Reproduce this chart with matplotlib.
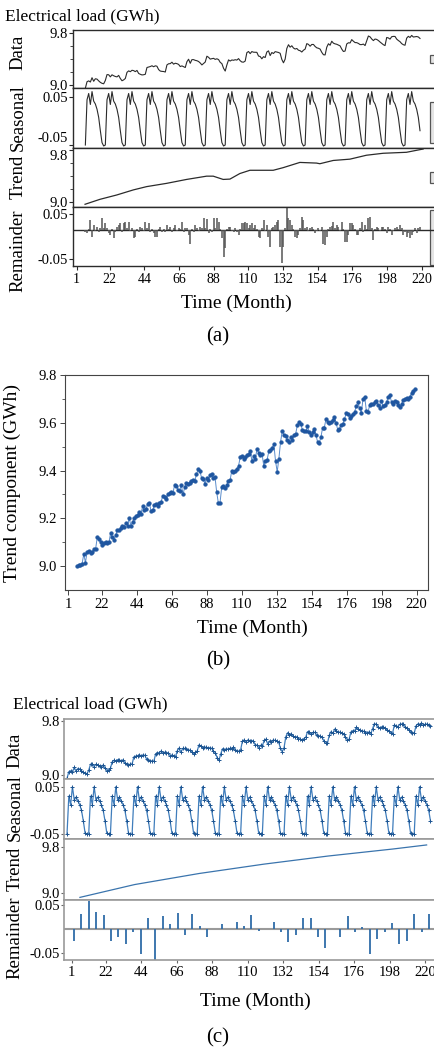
import numpy as np
import matplotlib
matplotlib.use("Agg")
import matplotlib.pyplot as plt
from matplotlib.patches import Rectangle

plt.rcParams['font.family'] = ['Liberation Serif', 'DejaVu Serif']

# ---------------- data ----------------
month_ticks = [1, 22, 44, 66, 88, 110, 132, 154, 176, 198, 220]

# (b) trend component (GWh), one value per sample
trend_component = [
    9.000, 9.005, 9.005, 9.010, 9.050, 9.015, 9.060, 9.065, 9.055, 9.060,
    9.070, 9.070, 9.120, 9.115, 9.100, 9.090, 9.095, 9.100, 9.095, 9.100,
    9.140, 9.120, 9.110, 9.130, 9.150, 9.150, 9.160, 9.170, 9.165, 9.180,
    9.170, 9.200, 9.170, 9.185, 9.200, 9.210, 9.215, 9.225, 9.220, 9.250,
    9.235, 9.240, 9.260, 9.265, 9.230, 9.235, 9.255, 9.260, 9.250, 9.265,
    9.270, 9.295, 9.290, 9.280, 9.300, 9.305, 9.310, 9.305, 9.340, 9.335,
    9.320, 9.315, 9.340, 9.300, 9.330, 9.350, 9.345, 9.350, 9.355, 9.360,
    9.355, 9.385, 9.405, 9.400, 9.370, 9.365, 9.345, 9.370, 9.360, 9.380,
    9.385, 9.370, 9.375, 9.310, 9.265, 9.265, 9.330, 9.335, 9.325, 9.340,
    9.355, 9.360, 9.400, 9.395, 9.400, 9.405, 9.420, 9.455, 9.460, 9.450,
    9.455, 9.465, 9.470, 9.480, 9.440, 9.460, 9.450, 9.490, 9.475, 9.465,
    9.470, 9.420, 9.440, 9.445, 9.480, 9.485, 9.495, 9.510, 9.440, 9.395,
    9.450, 9.520, 9.565, 9.550, 9.545, 9.530, 9.520, 9.540, 9.530, 9.550,
    9.555, 9.590, 9.605, 9.595, 9.570, 9.565, 9.565, 9.585, 9.560, 9.550,
    9.560, 9.575, 9.550, 9.520, 9.515, 9.540, 9.580, 9.580, 9.615, 9.605,
    9.600, 9.605, 9.610, 9.625, 9.600, 9.570, 9.575, 9.590, 9.595, 9.615,
    9.640, 9.635, 9.620, 9.630, 9.635, 9.645, 9.670, 9.685, 9.660, 9.640,
    9.700, 9.710, 9.650, 9.645, 9.675, 9.680, 9.680, 9.685, 9.690, 9.675,
    9.660, 9.690, 9.670, 9.675, 9.685, 9.710, 9.715, 9.685, 9.680, 9.690,
    9.685, 9.675, 9.665, 9.680, 9.695, 9.700, 9.705, 9.700, 9.710, 9.725,
    9.735, 9.740,
]

# (a) seasonal component, one yearly cycle (12 samples)
seasonal_cycle_a = [-0.050, 0.045, 0.058, 0.035, 0.062, 0.042,
                    0.036, 0.025, 0.008, -0.020, -0.045, -0.052]

# (a) remainder component, one value per sample
remainder_a = [
    -0.004, -0.006, 0.003, 0.022, -0.015, 0.011, -0.003, 0.007, -0.005, 0.004,
    0.026, 0.005, 0.015, 0.004, -0.006, -0.011, 0.003, -0.018, -0.005, 0.006,
    0.011, 0.015, -0.004, 0.015, 0.018, 0.005, 0.018, -0.003, 0.004, -0.018,
    -0.015, 0.003, -0.004, 0.007, 0.004, -0.003, 0.018, 0.005, 0.015, -0.004,
    0.003, -0.006, -0.015, -0.015, 0.003, 0.007, -0.004, 0.003, -0.005, 0.011,
    0.003, 0.007, -0.004, 0.004, 0.011, -0.003, 0.004, 0.003, 0.018, -0.004,
    0.004, 0.005, -0.011, -0.030, 0.003, -0.005, 0.011, 0.004, -0.003, 0.007,
    0.004, 0.026, 0.005, 0.025, -0.007, 0.003, -0.004, 0.026, 0.004, 0.026,
    0.018, 0.003, -0.018, -0.059, -0.040, 0.003, 0.007, 0.007, -0.003, -0.004,
    0.004, -0.005, -0.011, 0.003, 0.015, 0.015, 0.018, 0.015, 0.004, 0.011,
    0.015, 0.004, 0.011, 0.003, -0.015, -0.018, 0.004, 0.022, -0.003, 0.011,
    -0.015, -0.037, 0.004, 0.007, 0.011, 0.018, 0.022, -0.037, -0.074, -0.037,
    0.004, 0.048, 0.026, 0.022, 0.011, 0.003, -0.015, -0.018, -0.011, 0.004,
    0.030, 0.022, 0.004, 0.007, -0.003, 0.004, 0.007, 0.003, -0.007, -0.003,
    0.004, -0.002, 0.007, -0.030, -0.033, -0.015, 0.003, 0.007, 0.010, 0.018,
    0.004, 0.011, 0.007, -0.003, 0.018, 0.003, -0.026, -0.026, -0.011, 0.015,
    0.015, 0.011, 0.003, -0.011, -0.011, 0.004, 0.018, -0.004, 0.011, 0.003,
    0.026, 0.030, 0.004, -0.022, 0.003, 0.007, 0.004, -0.002, 0.007, 0.006,
    0.003, -0.007, 0.007, 0.003, -0.011, -0.003, 0.005, 0.007, 0.003, 0.011,
    0.004, -0.011, -0.004, -0.015, -0.006, -0.018, -0.011, -0.005, 0.004, -0.007,
    0.004, 0.007,
]

# (a) smooth trend
trend_a_months = [6.3, 15.8, 26.4, 37, 45.4, 58.1, 70.8, 83.5, 87.7, 94, 98.3,
                  104.6, 111, 125.8, 132.1, 142.7, 153.3, 155.4, 163.9, 174.5,
                  185, 195.6, 210.4, 221]
trend_a_values = [8.97, 9.046, 9.112, 9.19, 9.24, 9.29, 9.35, 9.40, 9.40, 9.35,
                  9.355, 9.44, 9.49, 9.49, 9.53, 9.61, 9.60, 9.59, 9.64, 9.66,
                  9.72, 9.75, 9.765, 9.815]

# (c) seasonal component, one yearly cycle
seasonal_cycle_c = [-0.050, 0.030, 0.012, 0.050, 0.022, 0.028,
                    0.020, 0.012, 0.000, -0.022, -0.048, -0.050]

# (c) trend
trend_c_months = [6.1, 40, 80, 120, 160, 200, 221]
trend_c_values = [8.93, 9.15, 9.34, 9.50, 9.64, 9.76, 9.83]

# (c) remainder (sparse)
remainder_c = [
    -0.025, 0.031, 0.058, 0.035, 0.029, -0.025, -0.017, -0.031, -0.007, -0.052,
    0.022, -0.065, 0.026, 0.010, 0.034, -0.012, 0.031, 0.007, -0.017, 0.000,
    0.010, 0.000, 0.015, 0.007, 0.029, -0.004, 0.000, 0.015, -0.007, -0.028,
    -0.012, 0.022, 0.022, -0.017, -0.040, 0.000, -0.017, 0.026, -0.007, 0.003,
    -0.052, -0.021, -0.007, 0.012, -0.031, -0.025, 0.031, -0.006, 0.031,
]

# ---------------- derived series ----------------
n = len(trend_component)
x_a = np.linspace(6.5, 219.0, n)
seasonal_a = np.resize(seasonal_cycle_a, n)
load = np.array(trend_component) + seasonal_a        # Data = trend comp. + seasonal
x_c = np.linspace(-1.9, 223.4, n)
seasonal_c = np.resize(seasonal_cycle_c, n)
x_rc = np.linspace(2.4, 222.5, len(remainder_c))

# ---------------- figure ----------------
W, H = 435, 1054
fig = plt.figure(figsize=(W / 100, H / 100), dpi=100)


def add_ax(l, t, r, b):
    return fig.add_axes([l / W, 1 - b / H, (r - l) / W, (b - t) / H])


dark = '#2b2b2b'
tick_fs = 10.5
lab_fs = 13.5

# ===== panel (a) =====
xa_lim = (-1.16, 231.7)
A = [add_ax(73.3, 30, 440, 88.3), add_ax(73.3, 88.3, 440, 148.3),
     add_ax(73.3, 148.3, 440, 206.7), add_ax(73.3, 206.7, 440, 265.7)]
ylims_a = [(8.948, 9.851), (-0.0569, 0.0689), (8.933, 9.826), (-0.0649, 0.0662)]
yt_a = [[9.0, 9.8], [-0.05, 0.05], [9.0, 9.8], [-0.05, 0.05]]
ytl_a = [['9.0', '9.8'], ['-0.05', '0.05'], ['9.0', '9.8'], ['-0.05', '0.05']]
for ax, yl, yt, ytl in zip(A, ylims_a, yt_a, ytl_a):
    ax.set_xlim(*xa_lim)
    ax.set_ylim(*yl)
    ax.set_yticks(yt)
    ax.set_yticklabels(ytl)
    for s in ax.spines.values():
        s.set_color(dark)
        s.set_linewidth(1.0)
    ax.spines['right'].set_visible(False)
    ax.tick_params(axis='y', labelsize=tick_fs, length=3, width=0.8, color=dark, pad=1)
    ax.set_xticks([])
A[0].set_yticks([9.2, 9.4, 9.6], minor=True)
A[2].set_yticks([9.2, 9.4, 9.6], minor=True)
for ax in (A[0], A[2]):
    ax.tick_params(axis='y', which='minor', length=2, width=0.6, color=dark)
# keep the crowded labels at the seasonal/trend junction apart
A[1].get_yticklabels()[0].set_va('bottom')
A[2].get_yticklabels()[1].set_va('top')

A[0].plot(x_a, load, color=dark, lw=0.8)
A[1].plot(x_a, seasonal_a, color=dark, lw=0.8)
A[2].plot(trend_a_months, trend_a_values, color=dark, lw=0.9)
rem_base = 0.0144
A[3].axhline(rem_base, color=dark, lw=1.0)
A[3].vlines(x_a, rem_base, rem_base + np.array(remainder_a), color='#555555', lw=1.1)
A[3].set_xticks(month_ticks)
A[3].set_xticklabels([str(m) for m in month_ticks])
A[3].tick_params(axis='x', labelsize=10, length=3, width=0.8, color=dark, pad=2)

# range bars at the right edge
for ax, (y0, y1) in zip(A, [(0.434, 0.571), (0.088, 0.772), (0.406, 0.594), (0.012, 0.944)]):
    ax.add_patch(Rectangle((0.9727, y0), 0.02, y1 - y0, transform=ax.transAxes,
                           facecolor='#e4e4e4', edgecolor='#555555', lw=0.9,
                           clip_on=False))

fig.text(5 / W, 1 - 16 / H, 'Electrical load (GWh)', fontsize=12.5, va='center', ha='left')
for lab, yc in [('Data', 52), ('Seasonal', 118), ('Trend', 177), ('Remainder', 251)]:
    fig.text(18 / W, 1 - yc / H, lab, rotation=90, fontsize=lab_fs, ha='center', va='center')
fig.text(236.7 / W, 1 - 303 / H, 'Time (Month)', fontsize=14, ha='center', va='center')
fig.text(218 / W, 1 - 337 / H, '(a)', fontsize=15, ha='center', va='center')

# ===== panel (b) =====
B = add_ax(65, 375, 427.7, 590)
B.plot(x_a, trend_component, '-', color='#5a8ccb', lw=0.7)
B.plot(x_a, trend_component, 'o', color='#1f56a0', ms=2.7, mec='#1f56a0', mew=0.3)
B.set_xlim(-1.07, 226.9)
B.set_ylim(8.9, 9.8)
B.set_xticks(month_ticks)
B.set_xticklabels([str(m) for m in month_ticks])
B.set_yticks([9.0, 9.2, 9.4, 9.6, 9.8])
B.set_yticklabels(['9.0', '9.2', '9.4', '9.6', '9.8'])
B.set_yticks([9.1, 9.3, 9.5, 9.7], minor=True)
for s in B.spines.values():
    s.set_color('#444444')
    s.set_linewidth(0.8)
B.tick_params(labelsize=tick_fs, length=3.5, width=0.7, color='#444444', pad=2)
B.tick_params(which='minor', length=2, width=0.6, color='#444444')
B.set_ylabel('Trend component (GWh)', fontsize=14, labelpad=6)
B.yaxis.set_label_coords(-(65 - 21) / (427.7 - 65), 0.5)
fig.text(252.5 / W, 1 - 628 / H, 'Time (Month)', fontsize=14, ha='center', va='center')
fig.text(218 / W, 1 - 661 / H, '(b)', fontsize=15, ha='center', va='center')

# ===== panel (c) =====
blue_line = '#3f7dbc'
blue_mark = '#1d5592'
gray = '#9a9a9a'
xc_lim = (-3.46, 229.3)
C = [add_ax(64.5, 719.3, 440, 779.3), add_ax(64.5, 779.3, 440, 839.3),
     add_ax(64.5, 839.3, 440, 900), add_ax(64.5, 900, 440, 960)]
ylims_c = [(8.937, 9.821), (-0.0612, 0.0656), (8.885, 9.927), (-0.0653, 0.0605)]
for ax, yl, yt, ytl in zip(C, ylims_c, yt_a, ytl_a):
    ax.set_xlim(*xc_lim)
    ax.set_ylim(*yl)
    ax.set_yticks(yt)
    ax.set_yticklabels(ytl)
    for s in ax.spines.values():
        s.set_color(gray)
        s.set_linewidth(1.2)
    ax.spines['right'].set_visible(False)
    ax.tick_params(axis='y', labelsize=tick_fs, length=2.5, width=0.8, color='#666666', pad=1)
    ax.set_xticks([])

C[0].plot(x_c, load, color=blue_line, lw=0.9, marker='+', ms=2.6, mec=blue_mark, mew=0.7)
C[1].plot(x_c, seasonal_c, color=blue_line, lw=0.9, marker='+', ms=3.0, mec=blue_mark, mew=0.7)
C[2].plot(trend_c_months, trend_c_values, color='#3a74ad', lw=0.9)
C[3].axhline(0, color=gray, lw=1.5)
C[3].vlines(x_rc, 0, remainder_c, color='#2f6ca8', lw=1.3)
C[3].set_xticks(month_ticks)
C[3].set_xticklabels([str(m) for m in month_ticks])
C[3].tick_params(axis='x', labelsize=10.5, length=2, width=0.8, color='#666666', pad=2)

fig.text(13 / W, 1 - 704 / H, 'Electrical load (GWh)', fontsize=12.5, va='center', ha='left')
for lab, yc in [('Data', 750), ('Seasonal', 808), ('Trend', 869), ('Remainder', 938)]:
    fig.text(15 / W, 1 - yc / H, lab, rotation=90, fontsize=lab_fs, ha='center', va='center')
fig.text(255.8 / W, 1 - 1001.7 / H, 'Time (Month)', fontsize=14, ha='center', va='center')
fig.text(218 / W, 1 - 1038 / H, '(c)', fontsize=15, ha='center', va='center')

fig.savefig('out.png', dpi=100)
